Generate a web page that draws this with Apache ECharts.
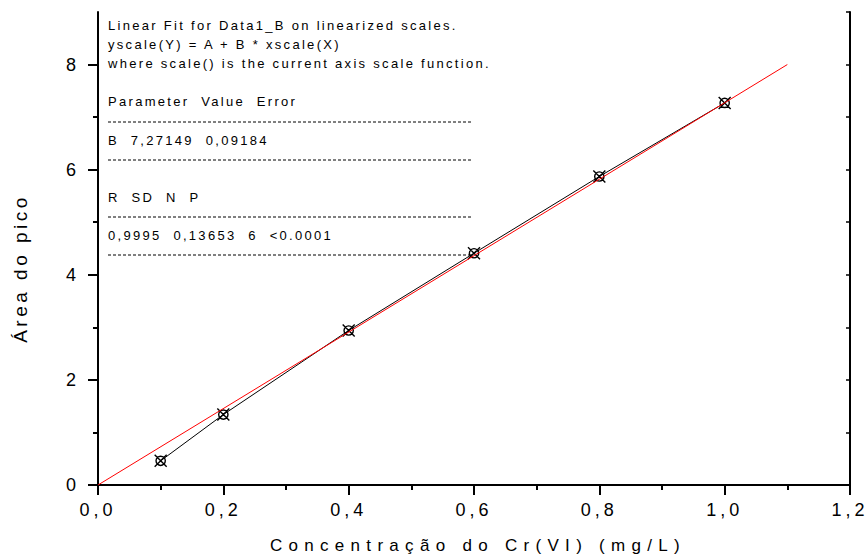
<!DOCTYPE html>
<html>
<head>
<meta charset="utf-8">
<script src="https://cdn.jsdelivr.net/npm/echarts@6/dist/echarts.min.js"></script>
<style>
  html, body { margin: 0; padding: 0; background: #fff; }
  #chart { width: 867px; height: 559px; }
  /* the original figure uses very wide letter spacing everywhere */
  #chart text[style*="13px"] { letter-spacing: 2.3px; }
  #chart text[style*="18px"] { letter-spacing: 4px; }
  #chart text[style*="17px"] { letter-spacing: 6.3px; }
  #chart text[style*="19px"] { letter-spacing: 3.5px; }
</style>
</head>
<body>
<div id="chart"></div>
<script>
// measured points (Cr(VI) concentration vs peak area)
const concX = [0.1, 0.2, 0.4, 0.6, 0.8, 1.0];
const areaY = [0.46, 1.34, 2.94, 4.41, 5.87, 7.27];

// linear fit through origin, B = 7,27149
const fitX = [0, 1.1];
const fitY = [0, 8.0];

const yMajor = [0, 2, 4, 6, 8];
const yMinor = [1, 3, 5, 7];
const yRight = [0, 1, 2, 3, 4, 5, 6, 7, 8, 9];

const boxLines = [
  "Linear Fit for Data1_B on linearized scales.",
  "yscale(Y) = A + B * xscale(X)",
  "where scale() is the current axis scale function.",
  "Parameter\u00a0 Value\u00a0 Error",
  "B\u00a0 7,27149\u00a0 0,09184",
  "R\u00a0 SD\u00a0 N\u00a0 P",
  "0,9995\u00a0 0,13653\u00a0 6\u00a0 <0.0001"
];
const boxLineY = [26, 45, 64, 102, 141, 198, 236];
const dashY = [122, 160, 217, 255];

let chartDom = document.getElementById("chart");
let myChart = echarts.init(chartDom, null, { renderer: "svg" });

const FONT = "Liberation Sans";
const markerPath =
  "path://M3.5,12A8.5,8.5 0 1,1 20.5,12A8.5,8.5 0 1,1 3.5,12Z M1,1L23,23M23,1L1,23";

function commaFmt(v) {
  return v.toFixed(1).replace(".", ",");
}

let graphics = [];
boxLines.forEach(function (t, i) {
  graphics.push({
    type: "text",
    left: 108,
    top: boxLineY[i] - 7,
    style: { text: t, fontSize: 13, fontFamily: FONT, fill: "#000" },
  });
});
dashY.forEach(function (y) {
  graphics.push({
    type: "line",
    shape: { x1: 108, y1: y, x2: 471, y2: y },
    style: { stroke: "#000", lineWidth: 1, lineDash: [3, 2] },
  });
});

const option = {
  animation: false,
  backgroundColor: "#fff",
  grid: { left: 98, right: 17, top: 12, bottom: 73 },
  xAxis: [
    {
      type: "value",
      position: "bottom",
      min: 0,
      max: 1.2,
      interval: 0.2,
      name: "Concentração do Cr(VI) (mg/L)",
      nameLocation: "middle",
      nameGap: 52,
      nameTextStyle: { fontSize: 17, fontFamily: FONT, color: "#000", padding: [0, 0, 0, 8] },
      axisLine: { lineStyle: { color: "#000", width: 2 } },
      axisTick: { length: 10, lineStyle: { color: "#000", width: 2 } },
      minorTick: { show: true, splitNumber: 2, length: 5, lineStyle: { color: "#000", width: 2 } },
      axisLabel: {
        margin: 16,
        fontSize: 18,
        fontFamily: FONT,
        color: "#000",
        formatter: commaFmt,
      },
      splitLine: { show: false },
    },
    {
      type: "value",
      position: "top",
      min: 0,
      max: 1.2,
      interval: 0.2,
      axisLine: { lineStyle: { color: "#000", width: 2 } },
      axisTick: { show: false },
      axisLabel: { show: false },
      splitLine: { show: false },
    },
  ],
  yAxis: [
    {
      type: "value",
      position: "left",
      min: 0,
      max: 9,
      interval: 1,
      name: "Área do pico",
      nameLocation: "middle",
      nameGap: 68,
      nameTextStyle: { fontSize: 19, fontFamily: FONT, color: "#000", padding: [0, 40, 0, 0] },
      axisLine: { lineStyle: { color: "#000", width: 2 } },
      axisTick: { length: 10, customValues: yMajor, lineStyle: { color: "#000", width: 2 } },
      axisLabel: {
        margin: 18,
        fontSize: 18,
        fontFamily: FONT,
        color: "#000",
        formatter: function (v) {
          return yMajor.indexOf(v) >= 0 ? String(v) : "";
        },
      },
      splitLine: { show: false },
    },
    {
      type: "value",
      position: "left",
      min: 0,
      max: 9,
      axisLine: { show: false },
      axisTick: { length: 5, customValues: yMinor, lineStyle: { color: "#000", width: 2 } },
      axisLabel: { show: false },
      splitLine: { show: false },
    },
    {
      type: "value",
      position: "right",
      min: 0,
      max: 9,
      axisLine: { lineStyle: { color: "#000", width: 2 } },
      axisTick: { inside: true, length: 4, customValues: yRight, lineStyle: { color: "#000", width: 1.5 } },
      axisLabel: { show: false },
      splitLine: { show: false },
    },
  ],
  series: [
    {
      type: "line",
      data: concX.map((x, i) => [x, areaY[i]]),
      symbol: markerPath,
      symbolSize: 12,
      showAllSymbol: true,
      lineStyle: { color: "#000", width: 1 },
      itemStyle: { color: "rgba(0,0,0,0)", borderColor: "#000", borderWidth: 1.4 },
      z: 3,
    },
    {
      type: "line",
      data: fitX.map((x, i) => [x, fitY[i]]),
      showSymbol: false,
      lineStyle: { color: "#ff0000", width: 1 },
      z: 4,
    },
  ],
  graphic: graphics,
};

option && myChart.setOption(option);
</script>
</body>
</html>
